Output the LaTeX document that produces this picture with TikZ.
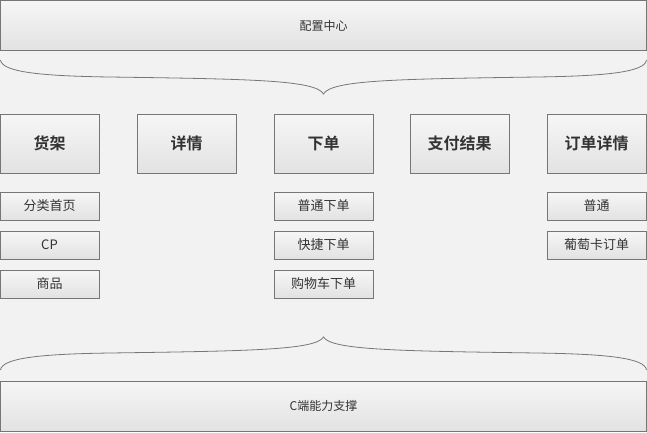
\documentclass[tikz,border=0pt]{standalone}
\usepackage{fontspec}
\newfontfamily\cjk{Noto Sans CJK SC}[BoldFont={* Bold}]
\definecolor{bgGray}{HTML}{F2F2F2}
\definecolor{boxTop}{HTML}{F6F6F6}
\definecolor{boxBot}{HTML}{E2E2E2}
\definecolor{lineGray}{HTML}{767676}
\definecolor{txtGray}{HTML}{333333}
\tikzset{
  box/.style={draw=lineGray, line width=1pt, top color=boxTop, bottom color=boxBot,
    inner sep=0pt, text=txtGray, font=\cjk},
  bar/.style={box, minimum width=646pt, minimum height=50pt, font=\cjk\fontsize{12}{14}\selectfont},
  mainbox/.style={box, minimum width=99pt, minimum height=59pt, font=\cjk\bfseries\fontsize{16}{18}\selectfont},
  subbox/.style={box, minimum width=99pt, minimum height=28pt, font=\cjk\fontsize{13}{15}\selectfont},
  brace/.style={draw=lineGray, line width=0.8pt}
}
\begin{document}
\begin{tikzpicture}[x=1pt, y=-1pt]
  \fill[bgGray] (0,0) rectangle (647,432);
  \useasboundingbox (0,0) rectangle (647,432);
  %--- Top
  \node[bar] (conf) at (323.5,25.5) {配置中心};
  \coordinate (tl) at (0.5,60);
  \coordinate (tip) at (323.5,94);
  \coordinate (tr) at (646.5,60);
  \draw[brace] (tl) .. controls (2,72) and (40,76) .. (110,77)
    .. controls (250,79) and (316,80) .. (tip)
    .. controls (331,80) and (397,79) .. (537,77)
    .. controls (607,76) and (645,72) .. (tr);
  %--- Main boxes
  \node[mainbox] (shelf) at (49.5,143.5) {货架};
  \node[mainbox] (detail) at (186.5,143.5) {详情};
  \node[mainbox] (order) at (323.5,143.5) {下单};
  \node[mainbox] (payres) at (459.5,143.5) {支付结果};
  \node[mainbox] (odetail) at (596.5,143.5) {订单详情};
  %--- Sub boxes
  \node[subbox] (cat) at (49.5,206) {分类首页};
  \node[subbox] (cp) at (49.5,245) {CP};
  \node[subbox] (goods) at (49.5,284) {商品};
  \node[subbox] (normal) at (323.5,206) {普通下单};
  \node[subbox] (quick) at (323.5,245) {快捷下单};
  \node[subbox] (cart) at (323.5,284) {购物车下单};
  \node[subbox] (onormal) at (596.5,206) {普通};
  \node[subbox] (grape) at (596.5,245) {葡萄卡订单};
  %--- Bottom
  \coordinate (bl) at (0.5,370);
  \coordinate (btip) at (323.5,337);
  \coordinate (br) at (646.5,370);
  \draw[brace] (bl) .. controls (2,358) and (40,354) .. (110,353)
    .. controls (250,351) and (316,350) .. (btip)
    .. controls (331,350) and (397,351) .. (537,353)
    .. controls (607,354) and (645,358) .. (br);
  \node[bar] (cbase) at (323.5,406) {C端能力支撑};
\end{tikzpicture}
\end{document}
